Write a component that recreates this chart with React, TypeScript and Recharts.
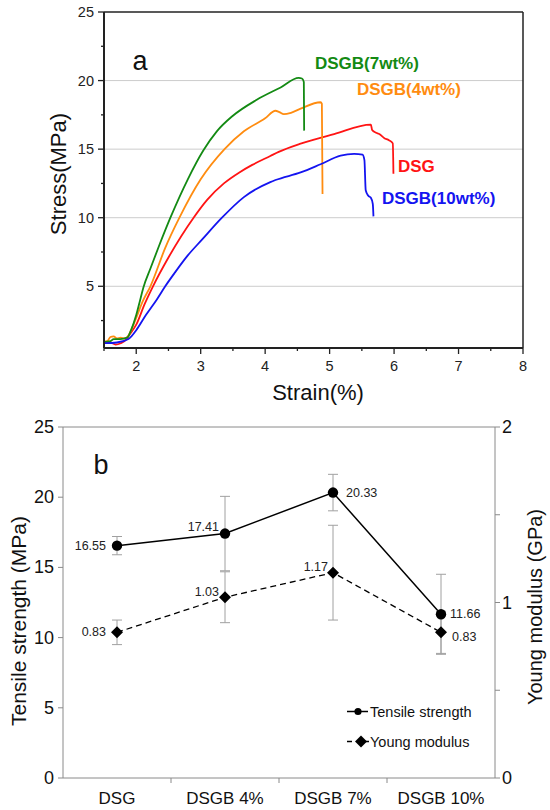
import { LineChart, ComposedChart, Line, XAxis, YAxis, ReferenceLine, ErrorBar, LabelList } from 'recharts';

const FONT = 'Arial, "Liberation Sans", Helvetica, sans-serif';

// ---- panel a: stress-strain curves, [strain %, stress MPa] ----
const CURVE_DSG: [number, number][] = [
  [1.5, 0.85], [1.6, 0.9], [1.68, 0.75], [1.76, 0.85], [1.84, 1.1], [1.9, 1.5], [2.0, 2.2], [2.13, 3.7],
  [2.26, 5.0], [2.5, 7.1], [2.89, 10.0], [3.1, 11.3], [3.36, 12.5], [3.6, 13.3], [3.8, 13.85], [4.08, 14.5],
  [4.21, 14.8], [4.55, 15.4], [5.07, 16.1], [5.64, 16.79], [5.66, 16.4], [5.72, 16.2], [5.77, 16.1],
  [5.85, 15.8], [5.92, 15.65], [5.98, 15.42], [5.99, 13.2],
];
const CURVE_DSGB4: [number, number][] = [
  [1.5, 0.95], [1.55, 1.0], [1.6, 1.3], [1.65, 1.35], [1.7, 1.2], [1.76, 1.25], [1.82, 1.2], [1.87, 1.35],
  [1.93, 1.9], [2.0, 2.7], [2.1, 3.9], [2.22, 5.0], [2.45, 7.8], [2.67, 10.0], [3.0, 12.8], [3.37, 15.0],
  [3.67, 16.3], [4.0, 17.25], [4.16, 17.8], [4.22, 17.7], [4.29, 17.55], [4.4, 17.65], [4.55, 17.95],
  [4.86, 18.42], [4.88, 18.3], [4.89, 11.73],
];
const CURVE_DSGB7: [number, number][] = [
  [1.5, 0.95], [1.6, 1.0], [1.65, 1.15], [1.75, 1.15], [1.86, 1.25], [1.92, 1.8], [2.0, 2.9], [2.05, 3.8],
  [2.11, 4.9], [2.22, 6.3], [2.35, 7.9], [2.53, 10.0], [2.8, 12.8], [3.04, 14.9], [3.25, 16.3], [3.49, 17.4],
  [3.87, 18.6], [4.24, 19.5], [4.52, 20.2], [4.57, 20.15], [4.6, 19.9], [4.605, 16.35],
];
const CURVE_DSGB10: [number, number][] = [
  [1.5, 0.85], [1.7, 0.9], [1.88, 1.15], [2.0, 1.8], [2.15, 2.9], [2.32, 4.04], [2.45, 5.0], [2.6, 6.0],
  [2.8, 7.25], [3.02, 8.4], [3.33, 10.0], [3.67, 11.5], [4.08, 12.6], [4.16, 12.75], [4.55, 13.3],
  [4.86, 13.9], [5.17, 14.53], [5.38, 14.66], [5.51, 14.6], [5.54, 14.2], [5.56, 12.0], [5.6, 11.6],
  [5.64, 11.45], [5.67, 11.0], [5.68, 10.1],
];

const STRAIN_TICKS = [1.5, 2, 2.5, 3, 3.5, 4, 4.5, 5, 5.5, 6, 6.5, 7, 7.5, 8];
const STRESS_TICKS = [2.5, 5, 7.5, 10, 12.5, 15, 17.5, 20, 22.5, 25];
const STRESS_GRID = [5, 10, 15, 20];

// ---- panel b: tensile strength / Young modulus ----
const CATEGORIES = ['DSG', 'DSGB 4%', 'DSGB 7%', 'DSGB 10%'];
const TENSILE = [16.55, 17.41, 20.33, 11.66];
const TENSILE_ERR = [0.65, 2.65, 1.3, 2.85];
const MODULUS = [0.83, 1.03, 1.17, 0.83];
const MODULUS_ERR = [0.07, 0.145, 0.27, 0.12];
const TS_TICKS = [0, 5, 10, 15, 20, 25];
const YM_TICKS = [0, 0.5, 1, 1.5, 2];

// label placement next to each point: [dx, dy, anchor]
const TS_LABEL_POS: [number, number, string][] = [[-11, 0, 'end'], [-6, -7, 'end'], [13, 0, 'start'], [9, 0, 'start']];
const YM_LABEL_POS: [number, number, string][] = [[-11, 0, 'end'], [-6, -5, 'end'], [-5, -6, 'end'], [11, 5, 'start']];

const CURVES = [
  { name: 'DSG', points: CURVE_DSG, color: '#ff1414' },
  { name: 'DSGB(4wt%)', points: CURVE_DSGB4, color: '#ff8c10' },
  { name: 'DSGB(7wt%)', points: CURVE_DSGB7, color: '#138a13' },
  { name: 'DSGB(10wt%)', points: CURVE_DSGB10, color: '#1414f0' },
];

const DARK = '#222';
const GRAY = '#8a8a8a';

function StrainTick({ x, y, payload }: any) {
  const major = Number.isInteger(payload.value);
  return (
    <g>
      <line x1={x} y1={y} x2={x} y2={y + (major ? 6 : 3)} stroke={DARK} strokeWidth={1.3} />
      {major && (
        <text x={x} y={y + 18} textAnchor="middle" dominantBaseline="central" fontSize={14.5} fill={DARK} fontFamily={FONT}>
          {payload.value}
        </text>
      )}
    </g>
  );
}

function StressTick({ x, y, payload }: any) {
  const major = payload.value % 5 === 0;
  return (
    <g>
      <line x1={x} y1={y} x2={x - (major ? 6 : 3)} y2={y} stroke={DARK} strokeWidth={1.3} />
      {major && (
        <text x={x - 10} y={y} textAnchor="end" dominantBaseline="central" fontSize={14.5} fill={DARK} fontFamily={FONT}>
          {payload.value}
        </text>
      )}
    </g>
  );
}

function StressStrainChart() {
  const series = CURVES.map(c => ({ ...c, data: c.points.map(([x, y]) => ({ x, y })) }));
  return (
    <LineChart width={550} height={412} margin={{ top: 12, right: 27, bottom: 12, left: 0 }}>
      {STRESS_GRID.map(v => (
        <ReferenceLine key={v} y={v} stroke="#cccccc" strokeWidth={1} />
      ))}
      <ReferenceLine y={25} stroke={DARK} strokeWidth={1.5} />
      <ReferenceLine x={8} stroke={DARK} strokeWidth={1.5} />
      <XAxis
        type="number"
        dataKey="x"
        domain={[1.5, 8]}
        ticks={STRAIN_TICKS}
        interval={0}
        allowDataOverflow
        height={52}
        tickSize={0}
        tickMargin={0}
        tickLine={false}
        axisLine={{ stroke: DARK, strokeWidth: 2 }}
        tick={<StrainTick />}
        label={{
          content: () => (
            <text x={318} y={392} textAnchor="middle" dominantBaseline="central" fontSize={22} fill="#111" fontFamily={FONT}>
              Strain(%)
            </text>
          ),
        }}
      />
      <YAxis
        type="number"
        domain={[0.5, 25]}
        ticks={STRESS_TICKS}
        interval={0}
        allowDataOverflow
        width={104}
        tickSize={0}
        tickMargin={0}
        tickLine={false}
        axisLine={{ stroke: DARK, strokeWidth: 2 }}
        tick={<StressTick />}
        label={{
          content: () => (
            <text x={58} y={174} transform="rotate(-90 58 174)" textAnchor="middle" dominantBaseline="central" fontSize={22} fill="#111" fontFamily={FONT}>
              Stress(MPa)
            </text>
          ),
        }}
      />
      {series.map(s => (
        <Line
          key={s.name}
          data={s.data}
          dataKey="y"
          name={s.name}
          type="monotone"
          stroke={s.color}
          strokeWidth={1.8}
          dot={false}
          activeDot={false}
          isAnimationActive={false}
        />
      ))}
      <g fontFamily={FONT} fontWeight="bold" fontSize={17}>
        <text x={140} y={61} textAnchor="middle" dominantBaseline="central" fontSize={27} fontWeight="normal" fill="#111">a</text>
        <text x={315} y={63} dominantBaseline="central" fill={CURVES[2].color}>DSGB(7wt%)</text>
        <text x={357} y={89} dominantBaseline="central" fill={CURVES[1].color}>DSGB(4wt%)</text>
        <text x={398} y={166} dominantBaseline="central" fill={CURVES[0].color}>DSG</text>
        <text x={382} y={198} dominantBaseline="central" fill={CURVES[3].color}>DSGB(10wt%)</text>
      </g>
    </LineChart>
  );
}

function CategoryTick(props: any) {
  const { x, y, payload, index, width, visibleTicksCount } = props;
  const band = width / visibleTicksCount;
  return (
    <g>
      {index > 0 && <line x1={x - band / 2} x2={x - band / 2} y1={y} y2={y + 5} stroke={GRAY} strokeWidth={1} />}
      <text x={x} y={y + 20} textAnchor="middle" dominantBaseline="central" fontSize={17} fill="#111" fontFamily={FONT}>
        {payload.value}
      </text>
    </g>
  );
}

function StrengthTick({ x, y, payload }: any) {
  return (
    <g>
      <line x1={x} y1={y} x2={x - 5} y2={y} stroke={GRAY} strokeWidth={1} />
      <text x={x - 9} y={y} textAnchor="end" dominantBaseline="central" fontSize={18} fill="#111" fontFamily={FONT}>
        {payload.value}
      </text>
    </g>
  );
}

function ModulusTick({ x, y, payload }: any) {
  const labelled = Number.isInteger(payload.value);
  return (
    <g>
      <line x1={x} y1={y} x2={x + 5} y2={y} stroke={GRAY} strokeWidth={1} />
      {labelled && (
        <text x={x + 7} y={y} textAnchor="start" dominantBaseline="central" fontSize={18} fill="#111" fontFamily={FONT}>
          {payload.value}
        </text>
      )}
    </g>
  );
}

const circleDot = (p: any) => <circle key={`c-${p.index}`} cx={p.cx} cy={p.cy} r={5.2} fill="#000" />;

const diamondDot = (p: any) => {
  const s = 6;
  const { cx, cy } = p;
  return <polygon key={`d-${p.index}`} points={`${cx},${cy - s} ${cx + s},${cy} ${cx},${cy + s} ${cx - s},${cy}`} fill="#000" />;
};

const valueLabel = (pos: [number, number, string][]) => (p: any) => {
  const [dx, dy, anchor] = pos[p.index];
  return (
    <text
      key={`l-${p.index}`}
      x={p.x + dx}
      y={p.y + dy}
      textAnchor={anchor as any}
      dominantBaseline="central"
      fontSize={12.5}
      fill="#222"
      fontFamily={FONT}
    >
      {Number(p.value).toFixed(2)}
    </text>
  );
};

function SeriesKey() {
  return (
    <g fontFamily={FONT} fontSize={14.5} fill="#111">
      <line x1={347} x2={368} y1={311.5} y2={311.5} stroke="#000" strokeWidth={1.5} />
      <circle cx={358} cy={311.5} r={3.6} fill="#000" />
      <text x={370} y={311.5} dominantBaseline="central">Tensile strength</text>
      <line x1={347} x2={352} y1={341.5} y2={341.5} stroke="#000" strokeWidth={1.5} />
      <line x1={364} x2={369} y1={341.5} y2={341.5} stroke="#000" strokeWidth={1.5} />
      <polygon points="361,335.5 367,341.5 361,347.5 355,341.5" fill="#000" />
      <text x={370} y={341.5} dominantBaseline="central">Young modulus</text>
    </g>
  );
}

function StrengthModulusChart() {
  const rows = CATEGORIES.map((name, i) => ({
    name,
    tensile: TENSILE[i],
    tensileErr: TENSILE_ERR[i],
    modulus: MODULUS[i],
    modulusErr: MODULUS_ERR[i],
  }));
  return (
    <ComposedChart width={550} height={410} data={rows} margin={{ top: 27, right: 0, bottom: 0, left: 0 }}>
      <XAxis
        dataKey="name"
        scale="band"
        interval={0}
        height={32}
        tickSize={0}
        tickMargin={0}
        tickLine={false}
        axisLine={{ stroke: GRAY, strokeWidth: 1 }}
        tick={<CategoryTick />}
      />
      <YAxis
        yAxisId="ts"
        type="number"
        domain={[0, 25]}
        ticks={TS_TICKS}
        interval={0}
        width={63}
        tickSize={0}
        tickMargin={0}
        tickLine={false}
        axisLine={{ stroke: GRAY, strokeWidth: 1 }}
        tick={<StrengthTick />}
        label={{
          content: () => (
            <text x={18} y={221} transform="rotate(-90 18 221)" textAnchor="middle" dominantBaseline="central" fontSize={21} fill="#111" fontFamily={FONT}>
              Tensile strength (MPa)
            </text>
          ),
        }}
      />
      <YAxis
        yAxisId="ym"
        orientation="right"
        type="number"
        domain={[0, 2]}
        ticks={YM_TICKS}
        interval={0}
        width={55}
        tickSize={0}
        tickMargin={0}
        tickLine={false}
        axisLine={{ stroke: GRAY, strokeWidth: 1 }}
        tick={<ModulusTick />}
        label={{
          content: () => (
            <text x={535} y={207} transform="rotate(-90 535 207)" textAnchor="middle" dominantBaseline="central" fontSize={20} fill="#111" fontFamily={FONT}>
              Young modulus (GPa)
            </text>
          ),
        }}
      />
      <ReferenceLine yAxisId="ts" y={25} stroke={GRAY} strokeWidth={1} />
      <Line
        yAxisId="ts"
        dataKey="tensile"
        name="Tensile strength"
        type="linear"
        stroke="#000"
        strokeWidth={1.5}
        dot={circleDot}
        activeDot={false}
        isAnimationActive={false}
      >
        <ErrorBar dataKey="tensileErr" width={5} stroke="#a0a0a0" strokeWidth={1} direction="y" />
        <LabelList dataKey="tensile" content={valueLabel(TS_LABEL_POS)} />
      </Line>
      <Line
        yAxisId="ym"
        dataKey="modulus"
        name="Young modulus"
        type="linear"
        stroke="#000"
        strokeWidth={1.3}
        strokeDasharray="6 4"
        dot={diamondDot}
        activeDot={false}
        isAnimationActive={false}
      >
        <ErrorBar dataKey="modulusErr" width={5} stroke="#a0a0a0" strokeWidth={1} direction="y" />
        <LabelList dataKey="modulus" content={valueLabel(YM_LABEL_POS)} />
      </Line>
      <text x={101} y={65} textAnchor="middle" dominantBaseline="central" fontSize={27} fill="#111" fontFamily={FONT}>b</text>
      <SeriesKey />
    </ComposedChart>
  );
}

export default function App() {
  return (
    <div style={{ position: 'absolute', left: 0, top: 0, width: 550, height: 810, background: '#fff', fontFamily: FONT }}>
      <div style={{ position: 'absolute', left: 0, top: 0 }}>
        <StressStrainChart />
      </div>
      <div style={{ position: 'absolute', left: 0, top: 400 }}>
        <StrengthModulusChart />
      </div>
    </div>
  );
}
